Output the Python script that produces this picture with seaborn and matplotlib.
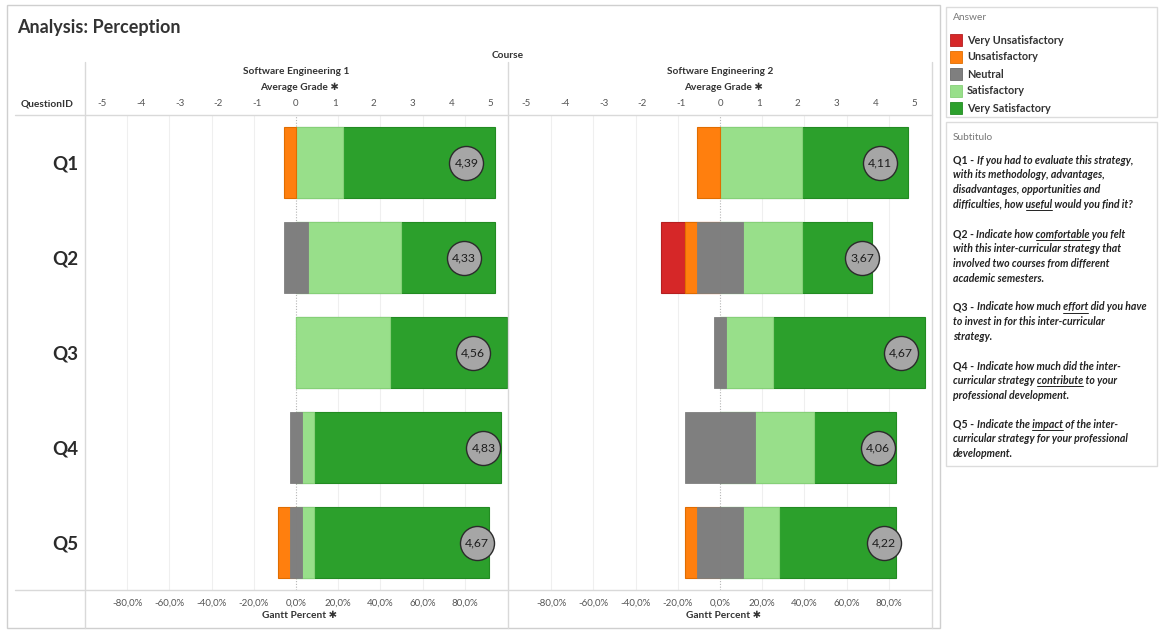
import numpy as np
import matplotlib
matplotlib.use("Agg")
import matplotlib.pyplot as plt
import seaborn as sns
from matplotlib.lines import Line2D
from matplotlib.patches import Rectangle

# ---------------- data ----------------
questions = ["Q1", "Q2", "Q3", "Q4", "Q5"]
answers = ["Very Unsatisfactory", "Unsatisfactory", "Neutral", "Satisfactory", "Very Satisfactory"]
answer_colors = ["#d62728", "#ff7f0e", "#7f7f7f", "#98df8a", "#2ca02c"]
edge_colors = ["#b51f20", "#e06d00", "#6a6a6a", "#86d078", "#228b22"]
courses = ["Software Engineering 1", "Software Engineering 2"]

# percentage of answers (%)
se1_very_unsat = [0.0, 0.0, 0.0, 0.0, 0.0]
se1_unsat = [5.6, 0.0, 0.0, 0.0, 5.6]
se1_neutral = [0.0, 11.1, 0.0, 5.6, 5.6]
se1_sat = [22.2, 44.4, 44.4, 5.6, 5.6]
se1_very_sat = [72.2, 44.4, 55.6, 88.9, 83.3]
se1_avg = [4.39, 4.33, 4.56, 4.83, 4.67]

se2_very_unsat = [0.0, 11.1, 0.0, 0.0, 0.0]
se2_unsat = [11.1, 5.6, 0.0, 0.0, 5.6]
se2_neutral = [0.0, 22.2, 5.6, 33.3, 22.2]
se2_sat = [38.9, 27.8, 22.2, 27.8, 16.7]
se2_very_sat = [50.0, 33.3, 72.2, 38.9, 55.6]
se2_avg = [4.11, 3.67, 4.67, 4.06, 4.22]

grade_ticks = [-5, -4, -3, -2, -1, 0, 1, 2, 3, 4, 5]
pct_ticks = [-80, -60, -40, -20, 0, 20, 40, 60, 80]
pct_tick_labels = ["-80,0%", "-60,0%", "-40,0%", "-20,0%", "0,0%", "20,0%", "40,0%", "60,0%", "80,0%"]

subtitle_blocks = [
    ("Q1 -", ["If you had to evaluate this strategy,", "with its methodology, advantages,",
              "disadvantages, opportunities and", "difficulties, how useful would you find it?"], "useful"),
    ("Q2 -", ["Indicate how comfortable you felt", "with this inter-curricular strategy that",
              "involved two courses from different", "academic semesters."], "comfortable"),
    ("Q3 -", ["Indicate how much effort did you have", "to invest in for this inter-curricular",
              "strategy."], "effort"),
    ("Q4 -", ["Indicate how much did the inter-", "curricular strategy contribute to your",
              "professional development."], "contribute"),
    ("Q5 -", ["Indicate the impact of the inter-", "curricular strategy for your professional",
              "development."], "impact"),
]

# ---------------- layout constants ----------------
W, H = 1159, 630
PCT_PER_GRADE = 18.4

sns.set_theme(style="white")
plt.rcParams["font.family"] = ["Lato", "DejaVu Sans"]

fig = plt.figure(figsize=(W / 100, H / 100), dpi=100)
fig.patch.set_facecolor("white")


def fx(px):
    return px / W


def fy(py):
    return 1 - py / H


def hline(y, x0, x1, color="#d9d9d9", lw=1.0):
    fig.add_artist(Line2D([fx(x0), fx(x1)], [fy(y), fy(y)], color=color, lw=lw))


def vline(x, y0, y1, color="#d9d9d9", lw=1.0):
    fig.add_artist(Line2D([fx(x), fx(x)], [fy(y0), fy(y1)], color=color, lw=lw))


TOP, BOT = 115, 590
panels = [
    (85, 508, (-100.0, 100.5), courses[0],
     (se1_very_unsat, se1_unsat, se1_neutral, se1_sat, se1_very_sat, se1_avg)),
    (508, 932, (-100.5, 100.5), courses[1],
     (se2_very_unsat, se2_unsat, se2_neutral, se2_sat, se2_very_sat, se2_avg)),
]

for pi, (x0, x1, xlim, cname, series) in enumerate(panels):
    ax = fig.add_axes([fx(x0), fy(BOT), (x1 - x0) / W, (BOT - TOP) / H])
    ax.set_facecolor("none")
    vu, u, n, s, vs, avg = [np.asarray(a, dtype=float) for a in series]
    half = n / 2
    # (bar end measured from zero, own segment size, colour index) -- drawn outermost first
    layers = [
        (half + s + vs, vs, 4),
        (half + s, s, 3),
        (-(half + u + vu), vu, 0),
        (-(half + u), u, 1),
        (half, n, 2),
        (-half, n, 2),
    ]
    for vals, seg, ci in layers:
        start = len(ax.patches)
        sns.barplot(x=vals, y=questions, orient="h", color=answer_colors[ci],
                    saturation=1, width=0.75, errorbar=None,
                    edgecolor=edge_colors[ci] if ci != 2 else answer_colors[ci],
                    linewidth=0.8 if ci != 2 else 0.6, ax=ax, zorder=2)
        for p, sz in zip(ax.patches[start:], seg):
            if sz <= 0 or abs(p.get_width()) < 1e-9:
                p.set_visible(False)

    # gridlines and zero line
    for t in pct_ticks:
        if t == 0:
            ax.axvline(0, color="#b5b5b5", lw=0.8, ls=(0, (1, 1.5)), zorder=1)
        else:
            ax.axvline(t, color="#efefef", lw=0.8, zorder=0)

    # average grade circles
    sns.scatterplot(x=avg * PCT_PER_GRADE, y=questions, s=600, color="#a6a6a6",
                    edgecolor="#2b2b2b", linewidth=1.0, ax=ax, legend=False, zorder=4)
    for q, a in zip(questions, avg):
        ax.text(a * PCT_PER_GRADE, q, f"{a:.2f}".replace(".", ","), ha="center",
                va="center", fontsize=8.8, color="#1e1e1e", zorder=5)

    ax.set_xlim(*xlim)
    ax.set_ylim(4.5, -0.5)
    ax.set_xlabel("")
    ax.set_ylabel("")
    for sp in ax.spines.values():
        sp.set_visible(False)
    ax.set_xticks(pct_ticks)
    ax.set_xticklabels(pct_tick_labels)
    ax.tick_params(axis="x", length=0, pad=6, labelsize=7, labelcolor="#555555")
    if pi == 0:
        ax.tick_params(axis="y", length=0, pad=5, labelsize=13.5, labelcolor="#2a2a2a")
        for lab in ax.get_yticklabels():
            lab.set_fontweight("bold")
    else:
        ax.tick_params(axis="y", length=0, labelleft=False)

    sec = ax.secondary_xaxis("top", functions=(lambda p: p / PCT_PER_GRADE,
                                               lambda g: g * PCT_PER_GRADE))
    sec.set_xticks(grade_ticks)
    sec.set_xticklabels([str(g) for g in grade_ticks])
    sec.tick_params(length=0, pad=5, labelsize=7, labelcolor="#555555")
    for sp in sec.spines.values():
        sp.set_visible(False)

    zero_px = x0 + (0 - xlim[0]) / (xlim[1] - xlim[0]) * (x1 - x0)
    fig.text(fx(zero_px), fy(72), cname, ha="center", va="center", fontsize=7.3,
             fontweight="bold", color="#333333")
    fig.text(fx(zero_px + 4), fy(87), "Average Grade \u2731", ha="center", va="center",
             fontsize=7.3, fontweight="bold", color="#333333")
    fig.text(fx(zero_px + 4), fy(616), "Gantt Percent \u2731", ha="center", va="center",
             fontsize=7.3, fontweight="bold", color="#333333")

# ---------------- frame and header ----------------
fig.add_artist(Rectangle((fx(7), fy(628)), (940 - 7) / W, (628 - 5) / H, fill=False,
                         edgecolor="#cfcfcf", lw=1.0))
for x in (85, 508, 932):
    vline(x, 62, 628)
hline(TOP, 15, 932)
hline(BOT, 15, 932)

fig.text(fx(17), fy(27), "Analysis: Perception", ha="left", va="center", fontsize=13,
         fontweight="bold", color="#333333")
fig.text(fx(508), fy(55), "Course", ha="center", va="center", fontsize=7.3,
         fontweight="bold", color="#333333")
fig.text(fx(47), fy(104), "QuestionID", ha="center", va="center", fontsize=7.3,
         fontweight="bold", color="#333333")

# ---------------- legend panel ----------------
fig.add_artist(Rectangle((fx(946), fy(117)), (1157 - 946) / W, (117 - 7) / H, fill=False,
                         edgecolor="#dcdcdc", lw=1.0))
fig.text(fx(953), fy(18), "Answer", ha="left", va="center", fontsize=7.3, color="#777777")
for i, (lab, col) in enumerate(zip(answers, answer_colors)):
    yc = 40 + i * 17
    fig.add_artist(Rectangle((fx(950), fy(yc + 6)), 12 / W, 12 / H, facecolor=col,
                             edgecolor=edge_colors[i], lw=0.6))
    fig.text(fx(967), fy(yc), lab, ha="left", va="center", fontsize=7.8,
             fontweight="bold", color="#333333")

# ---------------- subtitle panel ----------------
fig.add_artist(Rectangle((fx(946), fy(466)), (1157 - 946) / W, (466 - 122) / H, fill=False,
                         edgecolor="#dcdcdc", lw=1.0))
fig.text(fx(953), fy(137), "Subtitulo", ha="left", va="center", fontsize=7.3, color="#777777")

renderer = fig.canvas.get_renderer()
kw_b = dict(fontsize=7.6, fontweight="bold", color="#222222")
kw_i = dict(fontsize=7.6, fontweight="bold", fontstyle="italic", color="#222222")


def tw(s, kw):
    t = fig.text(0, 0, s, **kw)
    w = t.get_window_extent(renderer).width
    t.remove()
    return w


space_b = tw("a a", kw_b) - tw("aa", kw_b)
space_i = tw("a a", kw_i) - tw("aa", kw_i)

block_starts = [160, 234, 307, 366, 424]
LINE = 14.7
for (prefix, lines, uword), y0 in zip(subtitle_blocks, block_starts):
    for k, line in enumerate(lines):
        yb = y0 + k * LINE + 3.5
        cx = 953
        if k == 0:
            fig.text(fx(cx), fy(yb), prefix, ha="left", va="baseline", **kw_b)
            cx += tw(prefix, kw_b) + space_b
        fig.text(fx(cx), fy(yb), line, ha="left", va="baseline", **kw_i)
        if uword in line.split():
            i = line.index(uword)
            pre = line[:i]
            off = (tw(pre.rstrip(), kw_i) + space_i) if pre else 0
            wl = tw(uword, kw_i)
            hline(yb + 2, cx + off, cx + off + wl, color="#222222", lw=0.7)

fig.savefig("out.png", dpi=100, facecolor="white")
